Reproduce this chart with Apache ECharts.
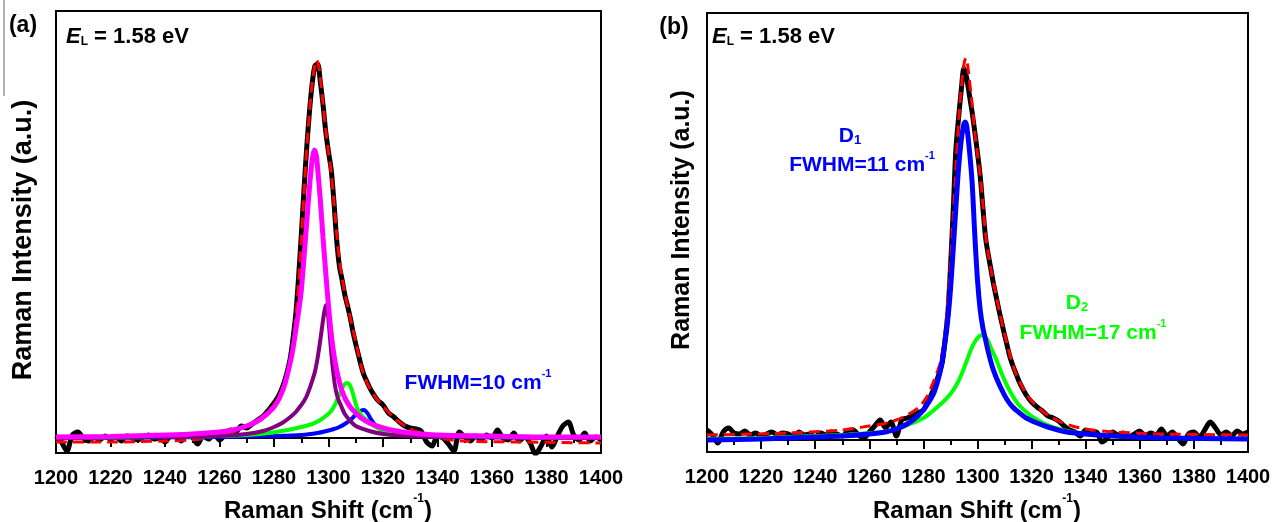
<!DOCTYPE html>
<html>
<head>
<meta charset="utf-8">
<script src="https://cdn.jsdelivr.net/npm/echarts@6/dist/echarts.min.js"></script>
<style>
  html, body { margin: 0; padding: 0; background: #fff; }
  #chart { width: 1279px; height: 522px; }
</style>
</head>
<body>
<div id="chart"></div>
<script>
// Raman shift grid for the measured (black) spectra
var blackX = [
    1200, 1202, 1204, 1206, 1208, 1210, 1212, 1214, 1216, 1218, 1220, 1222, 1224, 1226, 1228, 1230, 1232, 1234, 1236, 1238,
    1240, 1242, 1244, 1246, 1248, 1250, 1252, 1254, 1256, 1258, 1260, 1262, 1264, 1266, 1268, 1270, 1272, 1274, 1276, 1278,
    1280, 1281, 1282, 1283, 1284, 1285, 1286, 1287, 1288, 1289, 1290, 1291, 1292, 1293, 1294, 1295, 1296, 1297, 1298, 1299,
    1300, 1301, 1302, 1303, 1304, 1305, 1306, 1307, 1308, 1309, 1310, 1311, 1312, 1313, 1314, 1315, 1316,
    1318, 1320, 1322, 1324, 1326, 1328, 1330, 1332, 1334, 1336, 1338, 1340, 1342, 1344, 1346, 1348, 1350, 1352, 1354, 1356,
    1358, 1360, 1362, 1364, 1366, 1368, 1370, 1372, 1374, 1376, 1378, 1380, 1382, 1384, 1386, 1388, 1390, 1392, 1394, 1396,
    1398, 1400
];

// panel (a) measured spectrum
var blackA = [
    2, -4, -13, 3, 6, 0, -3, 1, -2, 2, -1, 1, -3, 2, 0, -2, 1, 3, -1, 0,
    -4, 2, 1, -3, 3, 1, -6, 2, -1, 4, -2, 3, 8, 6, 12, 10, 14, 18, 22, 28,
    35, 39, 44, 50, 58, 68, 80, 100, 124, 160, 202, 248, 290, 326, 354, 372, 374, 356, 333, 306,
    286, 268, 236, 198, 172, 158, 143, 132, 120, 106, 94, 83, 72, 63, 57, 51, 46,
    38, 33, 25, 21, 16, 12, 10, 9, 7, -4, -8, 2, 0, -6, -13, 6, 1, -3, 2, -2,
    3, 0, 8, 0, -2, 5, -3, 1, -5, -16, -8, 2, -9, 2, 12, 16, 3, -2, 5, -3,
    1, -2
];

// panel (b) measured spectrum
var blackB = [
    10, 5, -3, 8, 12, 7, 6, 9, 5, 7, 4, 6, 8, 5, 7, 6, 4, 8, 5, 6,
    3, 7, 5, 8, 6, 4, 9, 10, 5, 2, 8, 14, 20, 12, 18, 4, 20, 22, 24, 27,
    30, 35, 40, 46, 52, 60, 68, 78, 100, 125, 172, 228, 290, 322, 350, 372, 362, 345, 328, 308,
    287, 264, 232, 202, 185, 170, 155, 142, 129, 117, 105, 94, 83, 75, 68, 61, 55,
    45, 38, 33, 29, 24, 22, 19, 14, 10, 8, 4, 10, 6, 8, -2, 2, 8, 5, 7, 3,
    6, 9, 4, 7, 5, 11, 4, 8, 2, -4, 6, 8, 3, 10, 18, 12, 5, 8, 4, 9,
    6, 8
];

// panel (a) fitted curves [shift, intensity]
var fitA = [
    [1200, -4], [1220, -4], [1240, -3], [1250, -2], [1256, 0], [1260, 2], [1265, 6], [1270, 12], [1275, 20],
    [1280, 33], [1282, 42], [1284, 56], [1286, 77], [1287, 95], [1288, 120], [1289, 155], [1290, 198],
    [1291, 245], [1292, 288], [1293, 325], [1294, 355], [1295, 373], [1295.6, 378], [1296.3, 373], [1297, 360],
    [1298, 334], [1299, 308], [1300, 286], [1301, 265], [1302, 236], [1303, 205], [1304, 178], [1305, 160],
    [1306, 145], [1307, 132], [1308.5, 114], [1310, 96], [1312, 72], [1314, 56], [1316, 46], [1318, 38],
    [1320, 32], [1322, 26], [1325, 18], [1330, 9], [1335, 4], [1340, 0], [1350, -3], [1370, -4], [1400, -5]
];
var magentaA = [
    [1200, 1], [1220, 1.5], [1240, 3], [1250, 4], [1260, 6], [1265, 8], [1270, 12], [1274, 17], [1277, 23],
    [1280, 31], [1282, 40], [1284, 54], [1286, 76], [1287, 90], [1288, 108], [1289, 126], [1290, 147],
    [1291, 180], [1292, 215], [1293, 250], [1294, 278], [1294.8, 288], [1295.5, 283], [1296, 270], [1297, 238],
    [1298, 200], [1299, 165], [1300, 132], [1301, 104], [1302, 83], [1303, 68], [1304, 56], [1305, 47],
    [1306, 40], [1308, 31], [1310, 25], [1312, 20], [1315, 15], [1320, 10], [1325, 7], [1330, 5],
    [1340, 3], [1360, 2], [1380, 1], [1400, 1]
];
var purpleA = [
    [1200, 0], [1240, 1], [1260, 2], [1270, 4], [1276, 7], [1280, 11], [1283, 15], [1286, 21], [1288, 26],
    [1290, 33], [1291, 37], [1292, 42], [1293, 49], [1294, 57], [1295, 66], [1296, 80], [1297, 98],
    [1298, 118], [1298.6, 128], [1299.1, 133], [1299.6, 128], [1300.2, 112], [1300.8, 92], [1301.5, 72], [1302.4, 52],
    [1303.3, 41], [1304.8, 31], [1306, 24], [1308, 17], [1310, 12], [1315, 7], [1320, 4], [1330, 2],
    [1350, 1], [1400, 0]
];
var greenA = [
    [1200, 0], [1240, 1], [1260, 2], [1270, 3], [1278, 5], [1285, 8], [1290, 11], [1294, 14], [1297, 18],
    [1299, 22], [1301, 27], [1302.5, 34], [1303.8, 42], [1305, 50], [1306, 54], [1306.9, 55], [1307.8, 53],
    [1308.8, 46], [1309.6, 38], [1310.5, 30], [1312, 23], [1313.5, 19], [1315.2, 15], [1318, 10], [1322, 6],
    [1326, 4], [1335, 2], [1360, 1], [1400, 0]
];
var blueA = [
    [1200, 0], [1260, 1], [1280, 2], [1290, 3], [1296, 5], [1299.3, 7], [1302, 9], [1304, 11], [1306, 14],
    [1308, 18], [1309.5, 22], [1311, 26], [1312, 27.5], [1312.8, 28], [1313.6, 27], [1314.5, 24], [1315.3, 20],
    [1316.5, 15], [1318, 11], [1320, 7], [1323, 5], [1330, 3], [1345, 1], [1400, 0]
];

// panel (b) fitted curves [shift, intensity]
var fitB = [
    [1200, 5], [1230, 7], [1250, 10], [1260, 14], [1265, 16], [1270, 20], [1274, 25], [1278, 32], [1281, 42],
    [1284, 60], [1286, 75], [1287, 88], [1288, 108], [1289, 138], [1290, 178], [1291, 222], [1292, 272],
    [1293, 318], [1294, 352], [1295, 376], [1295.7, 382], [1296.4, 374], [1297, 360], [1298, 336], [1299, 308],
    [1300, 286], [1301, 264], [1302, 236], [1303, 206], [1304, 186], [1305, 170], [1306.5, 150], [1308, 130],
    [1310, 106], [1312, 85], [1314, 68], [1316, 56], [1318, 46], [1320, 39], [1323, 31], [1326, 25],
    [1330, 19], [1335, 14], [1340, 11], [1350, 8], [1370, 6], [1400, 5]
];
var d1B = [
    [1200, 0], [1220, 1], [1240, 3], [1250, 4], [1260, 6], [1266, 8], [1270, 11], [1274, 16], [1277.5, 23],
    [1280, 30], [1282, 38], [1284, 48], [1286, 66], [1287, 80], [1288, 98], [1289, 120], [1290, 150],
    [1291, 190], [1292, 232], [1293, 272], [1294, 300], [1294.8, 314], [1295.4, 318], [1296, 314], [1297, 290],
    [1298, 258], [1299, 205], [1300, 160], [1301, 130], [1302, 112], [1303, 100], [1304, 88], [1305.5, 73],
    [1307, 62], [1309, 50], [1311, 40], [1313, 33], [1316, 26], [1318, 22], [1322, 17], [1326, 13],
    [1333, 8], [1340, 6], [1350, 4], [1370, 2], [1400, 1]
];
var d2B = [
    [1200, 1], [1220, 2], [1240, 4], [1250, 5], [1260, 7], [1265, 8], [1270, 11], [1276, 17], [1280, 22],
    [1283, 28], [1286, 35], [1288, 40], [1290, 46], [1292, 54], [1294, 65], [1296, 79], [1298, 93],
    [1300, 102], [1301.9, 105], [1303.5, 101], [1305, 92], [1307, 80], [1309, 66], [1311, 54], [1313, 44],
    [1315, 36], [1318, 28], [1321, 22], [1325, 16], [1330, 11], [1335, 8], [1340, 6], [1350, 4],
    [1370, 2], [1400, 1]
];

var xTicks = ['1200', '1220', '1240', '1260', '1280', '1300', '1320', '1340', '1360', '1380', '1400'];

var FONT = 'Liberation Sans, Arial, sans-serif';

function pairs(xs, ys) {
    var res = [];
    for (var i = 0; i < xs.length; i++) {
        res.push([xs[i], ys[i]]);
    }
    return res;
}

function makeX(idx) {
    return {
        type: 'value',
        gridIndex: idx,
        min: 1200,
        max: 1400,
        interval: 20,
        axisLine: { show: true, lineStyle: { color: '#000', width: 2 } },
        axisTick: { show: true, inside: false, length: 9, lineStyle: { color: '#000', width: 2 } },
        minorTick: { show: true, splitNumber: 2, length: 5, lineStyle: { color: '#000', width: 2 } },
        splitLine: { show: false },
        axisLabel: {
            margin: 15,
            color: '#000',
            fontFamily: FONT,
            fontWeight: 'bold',
            fontSize: 20,
            formatter: function(v) {
                return xTicks[Math.round((v - 1200) / 20)];
            }
        }
    };
}

function makeY(idx, lo, hi) {
    return {
        type: 'value',
        gridIndex: idx,
        min: lo,
        max: hi,
        axisLine: { show: true, lineStyle: { color: '#000', width: 2 } },
        axisTick: { show: false },
        axisLabel: { show: false },
        splitLine: { show: false }
    };
}

function line(name, idx, data, color, width, dashed, smooth) {
    return {
        name: name,
        type: 'line',
        xAxisIndex: idx,
        yAxisIndex: idx,
        data: data,
        showSymbol: false,
        smooth: smooth,
        animation: false,
        lineStyle: { color: color, width: width, type: dashed ? [11, 6] : 'solid' }
    };
}

function titleRich(size) {
    return {
        t: { fontFamily: FONT, fontWeight: 'bold', fontSize: size, lineHeight: 30, fill: '#000', verticalAlign: 'bottom' },
        s: { fontFamily: FONT, fontWeight: 'bold', fontSize: 12, lineHeight: 30, fill: '#000', verticalAlign: 'top' }
    };
}

function richText(x, y, text, rich, rot, align) {
    return {
        type: 'text',
        x: x,
        y: y,
        rotation: rot || 0,
        style: {
            text: text,
            rich: rich,
            align: align || 'center',
            verticalAlign: 'middle'
        }
    };
}

function colourRich(c, size) {
    return {
        t: { fontFamily: FONT, fontWeight: 'bold', fontSize: size, lineHeight: 26, fill: c, verticalAlign: 'bottom' },
        s: { fontFamily: FONT, fontWeight: 'bold', fontSize: 11, lineHeight: 26, fill: c, verticalAlign: 'top' },
        b: { fontFamily: FONT, fontWeight: 'bold', fontSize: 13, lineHeight: 34, fill: c, verticalAlign: 'bottom' }
    };
}

var elRich = {
    e: { fontFamily: FONT, fontWeight: 'bold', fontStyle: 'italic', fontSize: 22, lineHeight: 26, fill: '#000', verticalAlign: 'bottom' },
    l: { fontFamily: FONT, fontWeight: 'bold', fontSize: 12, lineHeight: 36, fill: '#000', verticalAlign: 'bottom' },
    t: { fontFamily: FONT, fontWeight: 'bold', fontSize: 22, lineHeight: 26, fill: '#000', verticalAlign: 'bottom' }
};

var chart = echarts.init(document.getElementById('chart'), null, { renderer: 'canvas' });

var option = {
    animation: false,
    backgroundColor: '#fff',
    grid: [
        { left: 56, top: 11, width: 545, height: 442, show: true, borderColor: '#000', borderWidth: 2, backgroundColor: 'transparent' },
        { left: 707, top: 13, width: 541, height: 439, show: true, borderColor: '#000', borderWidth: 2, backgroundColor: 'transparent' }
    ],
    xAxis: [makeX(0), makeX(1)],
    yAxis: [makeY(0, -15, 427), makeY(1, -12, 427)],
    series: [
        line('data a', 0, pairs(blackX, blackA), '#000', 5, false, 0.3),
        line('fit a', 0, fitA, '#ff0000', 3, true, 0.3),
        line('blue a', 0, blueA, '#0000ff', 4, false, 0.3),
        line('green a', 0, greenA, '#00ff00', 4, false, 0.3),
        line('purple a', 0, purpleA, '#800080', 4, false, 0.3),
        line('magenta a', 0, magentaA, '#ff00ff', 5, false, 0.3),
        line('data b', 1, pairs(blackX, blackB), '#000', 5, false, 0.3),
        line('fit b', 1, fitB, '#ff0000', 3, true, 0.3),
        line('D2', 1, d2B, '#00ff00', 4, false, 0.3),
        line('D1', 1, d1B, '#0000ff', 5, false, 0.3)
    ],
    graphic: [
        { type: 'line', shape: { x1: 4, y1: 0, x2: 4, y2: 96 }, style: { stroke: '#666', lineWidth: 1 } },
        richText(23, 22, '{t|(a)}', titleRich(23)),
        richText(674, 24, '{t|(b)}', titleRich(23)),
        richText(66, 30, '{e|E}{l|L}{t| = 1.58 eV}', elRich, 0, 'left'),
        richText(712, 30, '{e|E}{l|L}{t| = 1.58 eV}', elRich, 0, 'left'),
        richText(328, 508, '{t|Raman Shift (cm}{s|-1}{t|)}', titleRich(24)),
        richText(977, 508, '{t|Raman Shift (cm}{s|-1}{t|)}', titleRich(24)),
        richText(22, 240, '{t|Raman Intensity (a.u.)}', titleRich(27), Math.PI / 2),
        richText(680, 220, '{t|Raman Intensity (a.u.)}', titleRich(25), Math.PI / 2),
        richText(478, 381, '{t|FWHM=10 cm}{s|-1}', colourRich('#0000ff', 21)),
        richText(850, 130, '{t|D}{b|1}', colourRich('#0000ff', 21)),
        richText(862, 163, '{t|FWHM=11 cm}{s|-1}', colourRich('#0000ff', 21)),
        richText(1077, 297, '{t|D}{b|2}', colourRich('#00ff00', 21)),
        richText(1093, 331, '{t|FWHM=17 cm}{s|-1}', colourRich('#00ff00', 21))
    ]
};

chart.setOption(option);
</script>
</body>
</html>
